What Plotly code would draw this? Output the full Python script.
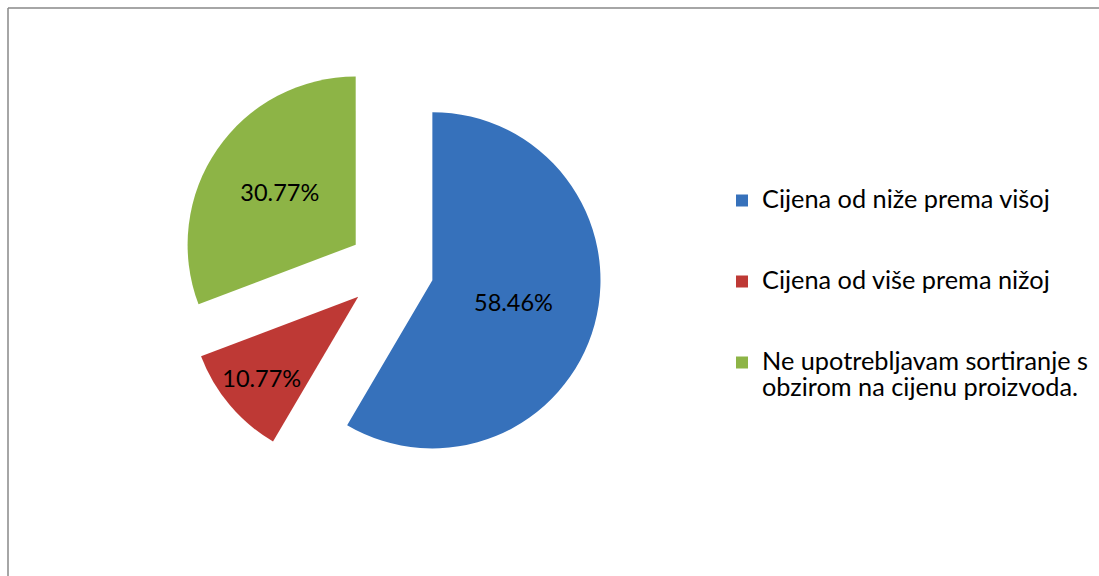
import plotly.graph_objects as go

# share of respondents per sorting habit (percent)
labels = [
    "Cijena od niže prema višoj",
    "Cijena od više prema nižoj",
    "Ne upotrebljavam sortiranje s<br>obzirom na cijenu proizvoda.",
]
shares = [58.46, 10.77, 30.77]
slice_colors = ["#3671BB", "#BE3935", "#8DB446"]

W, H = 1099, 576
FONT = "Lato"
LEGEND_SIZE = 25.3
PIE_TEXT_SIZE = 23.5


def legend_label(text, pad_lines):
    # the legend has no item height setting, so blank lines give the spacing
    return f"<span style='font-size:{LEGEND_SIZE}px'>{text}</span>" + "<br>&nbsp;" * pad_lines


legend_labels = [legend_label(lbl, 2 - lbl.count("<br>")) for lbl in labels]

fig = go.Figure(go.Pie(
    labels=legend_labels,
    values=shares,
    sort=False,
    direction="clockwise",
    rotation=0,
    pull=[0.255] * len(shares),
    marker=dict(colors=slice_colors, line=dict(width=0)),
    texttemplate="%{value:.2f}%",
    textposition="inside",
    insidetextorientation="horizontal",
    textfont=dict(family=FONT, size=PIE_TEXT_SIZE, color="#000000"),
    hoverinfo="skip",
    domain=dict(x=[180 / W, 602 / W], y=[1 - 480 / H, 1 - 58 / H]),
))

# chart frame: only the left and top edges fall inside the window
frame = dict(type="line", xref="paper", yref="paper", layer="below",
             line=dict(color="#888888", width=1.5))

fig.update_layout(
    width=W,
    height=H,
    margin=dict(l=0, r=0, t=0, b=0),
    paper_bgcolor="#ffffff",
    plot_bgcolor="#ffffff",
    font=dict(family=FONT, color="#000000"),
    uniformtext=dict(minsize=PIE_TEXT_SIZE, mode="show"),
    showlegend=True,
    legend=dict(
        x=722 / W, xanchor="left",
        y=1 - 181 / H, yanchor="top",
        valign="top",
        font=dict(family=FONT, size=20, color="#000000"),
        bgcolor="rgba(0,0,0,0)",
    ),
    shapes=[
        dict(frame, x0=8 / W, x1=8 / W, y0=0, y1=1 - 8 / H),
        dict(frame, x0=8 / W, x1=1, y0=1 - 8 / H, y1=1 - 8 / H),
    ],
)

# drop the default page margin and scrollbars so the figure fills the window
page_fix = (
    "document.body.style.margin='0';"
    "document.body.style.overflow='hidden';"
    "document.documentElement.style.overflow='hidden';"
)
fig.write_html("out.html", config={"displayModeBar": False}, post_script=page_fix)
